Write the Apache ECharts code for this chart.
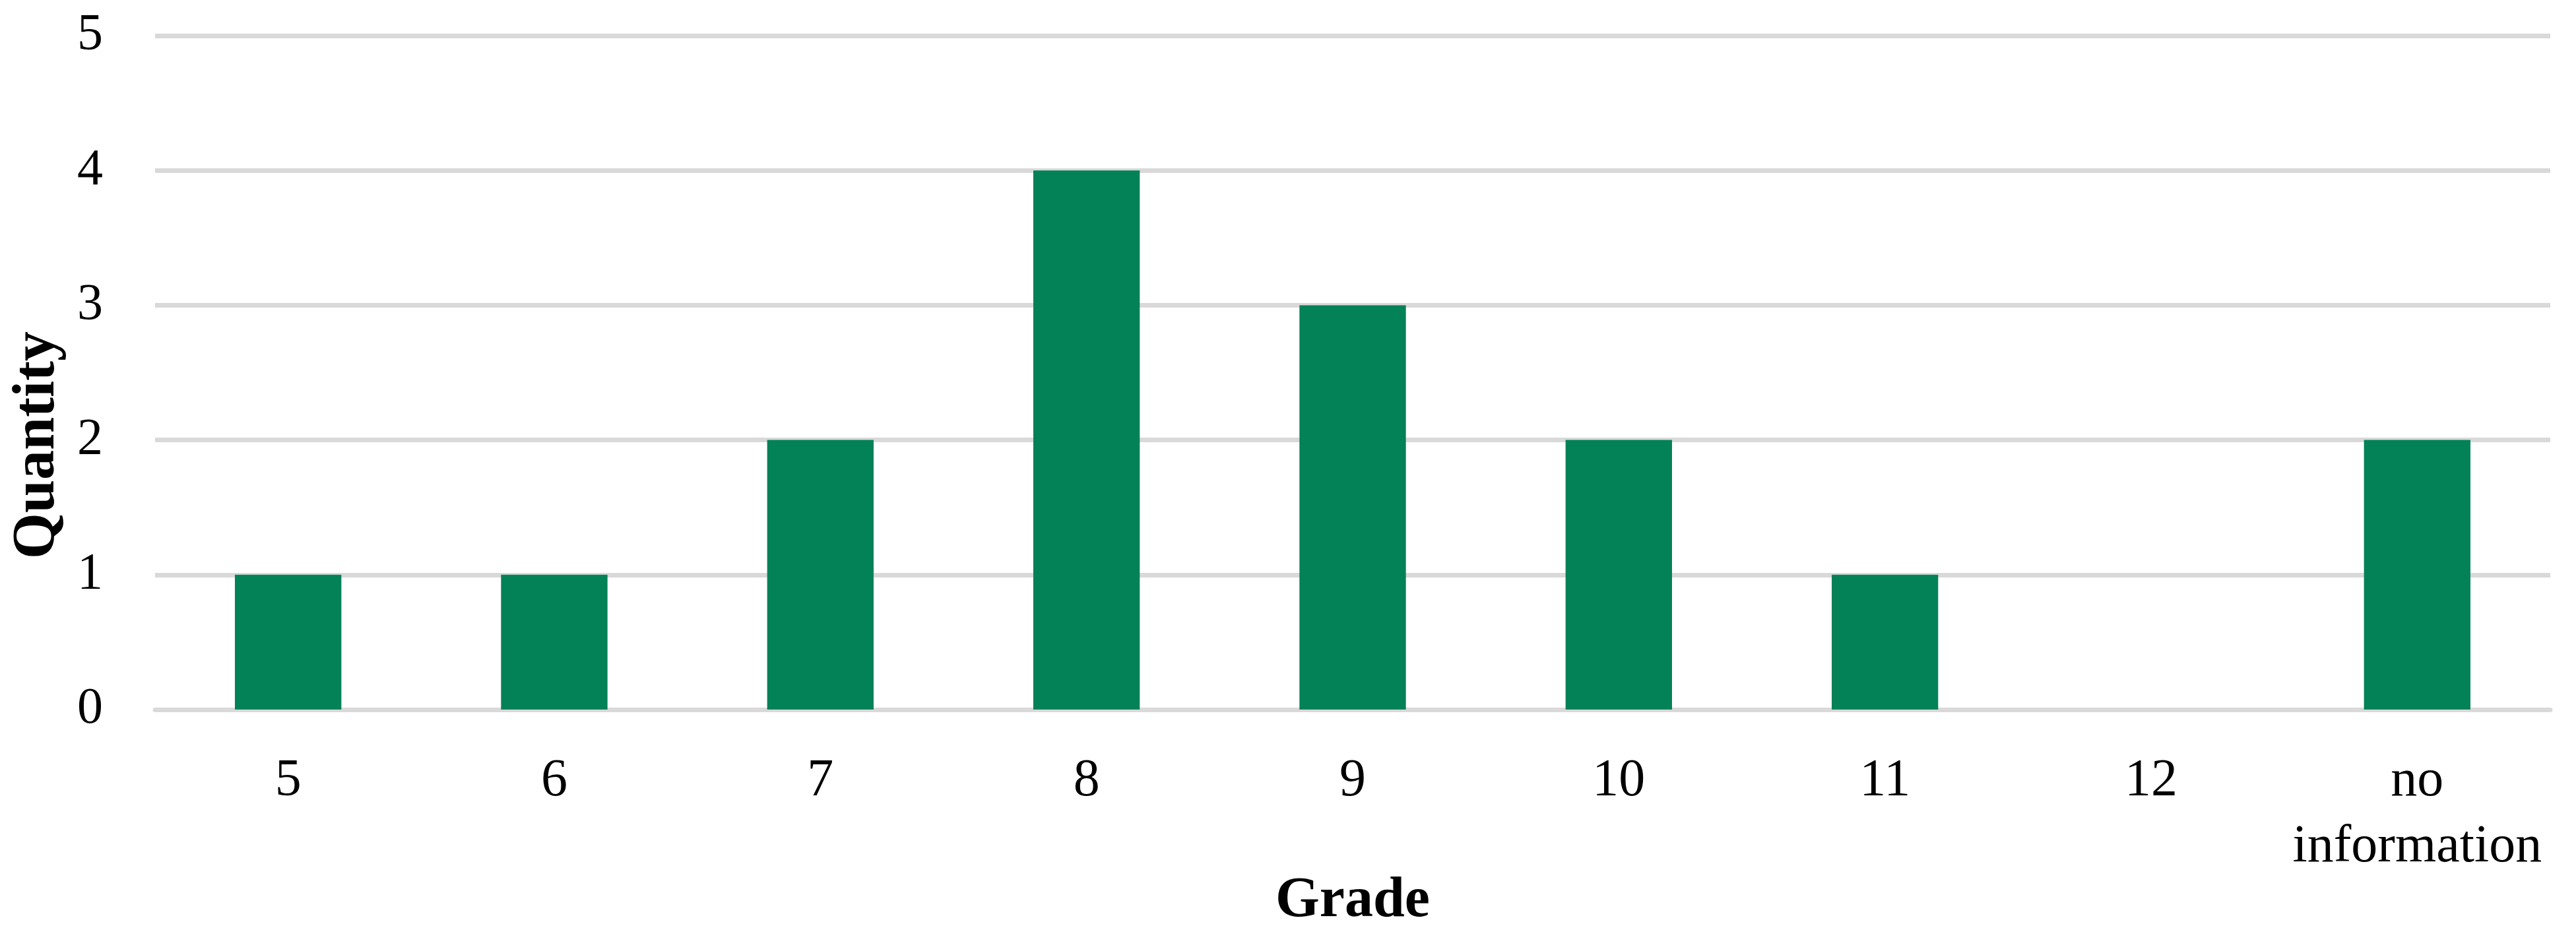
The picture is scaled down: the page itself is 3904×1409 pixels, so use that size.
<!DOCTYPE html>
<html>
<head>
<meta charset="utf-8">
<style>
  html, body { margin: 0; padding: 0; background: #fff; }
  #chart { width: 3904px; height: 1409px; }
</style>
<script src="https://cdn.jsdelivr.net/npm/echarts@6/dist/echarts.min.js"></script>
</head>
<body>
<div id="chart"></div>
<script>
// grade categories and counts
var grades = ['5', '6', '7', '8', '9', '10', '11', '12', 'no\ninformation']
var quantities = [1, 1, 2, 4, 3, 2, 1, 0, 2]
var barColor = '#038157'
var gridColor = '#d9d9d9'
var fontName = '"Liberation Serif", "DejaVu Serif", serif'

var chart = echarts.init(document.getElementById('chart'))
chart.setOption({
  animation: false,
  grid: {
    left: 235,
    right: 39,
    top: 54,
    bottom: 334,
    outerBoundsMode: 'none',
    containLabel: false,
  },
  xAxis: {
    type: 'category',
    data: grades,
    name: 'Grade',
    nameLocation: 'middle',
    nameGap: 248,
    nameMoveOverlap: false,
    nameTextStyle: {
      fontFamily: fontName,
      fontWeight: 'bold',
      fontSize: 86,
      color: '#000',
    },
    axisLine: {
      lineStyle: { color: gridColor, width: 7 },
    },
    axisTick: { show: false },
    axisLabel: {
      fontFamily: fontName,
      fontSize: 80,
      lineHeight: 100,
      color: '#000',
      margin: 59,
      interval: 0,
    },
  },
  yAxis: {
    type: 'value',
    min: 0,
    max: 5,
    interval: 1,
    name: 'Quantity',
    nameLocation: 'middle',
    nameGap: 132,
    nameMoveOverlap: false,
    nameTextStyle: {
      fontFamily: fontName,
      fontWeight: 'bold',
      fontSize: 90,
      color: '#000',
      padding: [0, 220, 0, 0], // push the title a bit below the plot centre
    },
    axisLine: { show: false },
    axisTick: { show: false },
    axisLabel: {
      fontFamily: fontName,
      fontSize: 78,
      color: '#000',
      margin: 79,
    },
    splitLine: {
      lineStyle: { color: gridColor, width: 7 },
    },
  },
  series: [
    {
      type: 'bar',
      data: quantities,
      barWidth: '40%',
      itemStyle: { color: barColor },
    },
  ],
})
</script>
</body>
</html>
